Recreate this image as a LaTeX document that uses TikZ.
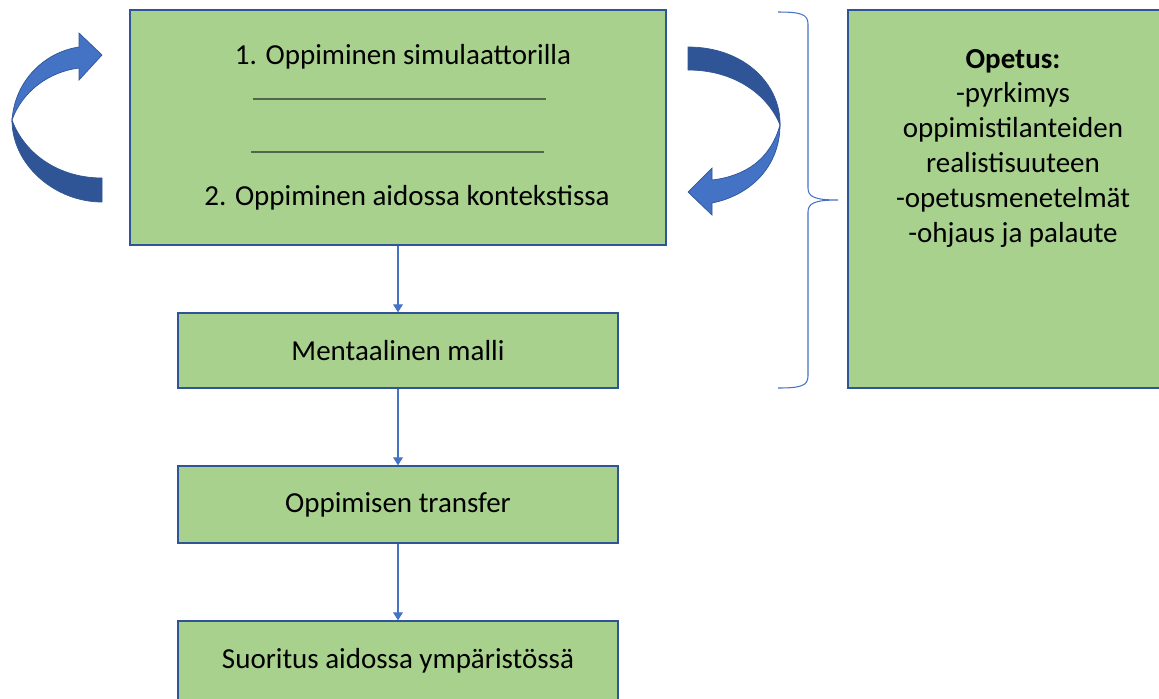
\documentclass[tikz,border=0pt]{standalone}
\usepackage{fontspec}
\setmainfont{Carlito}
\usetikzlibrary{arrows.meta}
\definecolor{vihrea}{HTML}{A9D18E}
\definecolor{tummasin}{HTML}{2F5597}
\definecolor{sin}{HTML}{4472C4}
\definecolor{viiva}{HTML}{55654A}
\tikzset{
  laatikko/.style={draw=tummasin, line width=0.8pt, fill=vihrea, inner sep=0pt},
  yhteys/.style={draw=sin, line width=0.6pt, -{Triangle[width=5.5pt,length=4.5pt]}},
  teksti/.style={font=\fontsize{16.5}{19.8}\selectfont, align=center, inner sep=0pt}
}
\begin{document}
\begin{tikzpicture}[x=0.02cm, y=-0.02cm]
\clip (0,0) rectangle (1159,698);
\node [laatikko, minimum width=10.72cm, minimum height=4.7cm] (sim) at (398,127.5) {};
\node [teksti] (sim1) at (403,57) {1. Oppiminen simulaattorilla};
\node [teksti] (sim2) at (407,198) {2. Oppiminen aidossa kontekstissa};
\draw [viiva, line width=0.7pt] (253,99) -- (546,99) (251,152) -- (544,152);
\node [laatikko, minimum width=8.8cm, minimum height=1.5cm, teksti] (malli) at (398,350.5) {Mentaalinen malli};
\node [laatikko, minimum width=8.8cm, minimum height=1.54cm, teksti] (transfer) at (398,504.5) {Oppimisen transfer};
\node [laatikko, minimum width=8.8cm, minimum height=1.6cm, teksti] (suoritus) at (398,661) {Suoritus aidossa ympäristössä};
\draw [yhteys] (sim) -- (malli);
\draw [yhteys] (malli) -- (transfer);
\draw [yhteys] (transfer) -- (suoritus);
\node [laatikko, minimum width=6.64cm, minimum height=7.56cm] (opetus) at (1014,199) {};
\node [teksti] (opetusteksti) at (1013,148) {\textbf{Opetus:}\\-pyrkimys\\oppimistilanteiden\\realistisuuteen\\-opetusmenetelmät\\-ohjaus ja palaute};
\coordinate (ylä) at (778,12);
\coordinate (kärki) at (838,200);
\coordinate (ala) at (778,388);
\draw [sin, line width=0.6pt] (ylä) .. controls (800,12) and (808,14) .. (808,24) -- (808,188) .. controls (808,197) and (815,200) .. (kärki) .. controls (815,200) and (808,203) .. (808,212) -- (808,376) .. controls (808,386) and (800,388) .. (ala);
\filldraw [fill=tummasin, draw=tummasin, line width=0.4pt] (688,47) .. controls (745,47) and (781,85) .. (780,125) .. controls (768,95) and (735,70) .. (688,70) -- cycle;
\filldraw [fill=sin, draw=tummasin, line width=0.4pt] (780,125) .. controls (780,165) and (752,195) .. (712,203) -- (712,215) -- (688,192) -- (712,168) -- (712,180) .. controls (745,176) and (770,160) .. (780,125) -- cycle;
\filldraw [fill=sin, draw=tummasin, line width=0.4pt] (12,120) .. controls (15,80) and (45,52) .. (79,47) -- (79,33) -- (102,55) -- (79,80) -- (79,68) .. controls (48,72) and (22,92) .. (12,120) -- cycle;
\filldraw [fill=tummasin, draw=tummasin, line width=0.4pt] (12,120) .. controls (12,165) and (55,202) .. (102,202) -- (102,178) .. controls (60,178) and (25,155) .. (12,120) -- cycle;
\end{tikzpicture}
\end{document}
